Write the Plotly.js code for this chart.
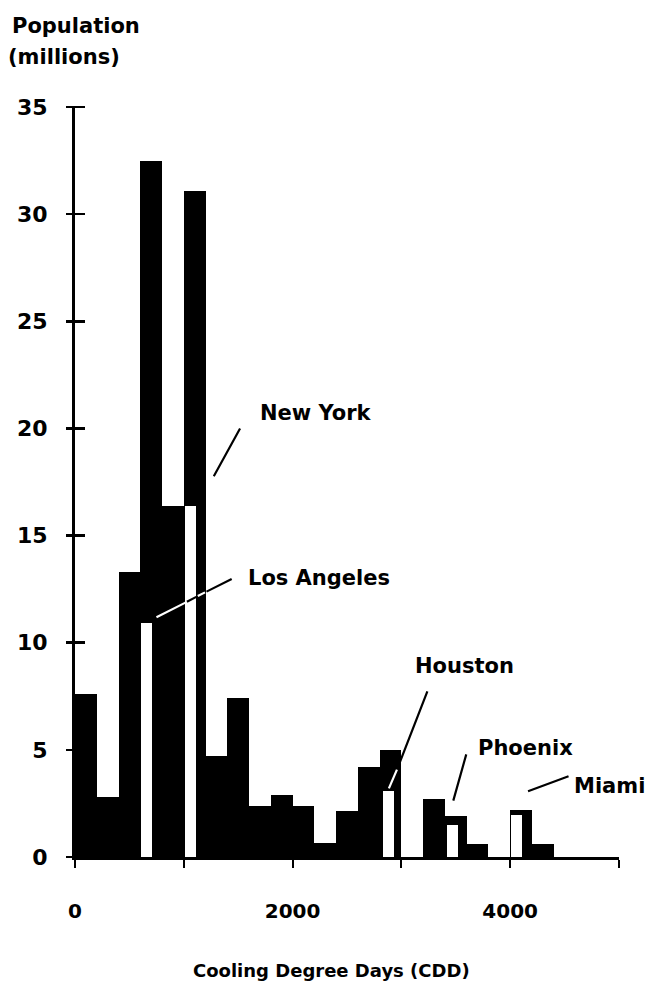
<!DOCTYPE html>
<html>
<head>
<meta charset="utf-8">
<script src="https://cdn.plot.ly/plotly-3.0.1.min.js"></script>
<style>html,body{margin:0;padding:0;background:#fff;}#chart{width:661px;height:993px;}</style>
</head>
<body>
<div id="chart"></div>
<script>
// Histogram bins (CDD, lower edge) and population per bin (millions)
var binStart = [0, 200, 400, 600, 800, 1000, 1200, 1400, 1600, 1800, 2000, 2200, 2400, 2600, 2800, 3000, 3200, 3400, 3600, 3800, 4000, 4200];
var binPopulation = [7.6, 2.8, 13.3, 32.5, 16.4, 31.1, 4.7, 7.4, 2.4, 2.9, 2.4, 0.65, 2.15, 4.2, 5.0, 0, 2.7, 1.9, 0.6, 0, 2.2, 0.6];
var binWidth = 200;

// Highlighted cities
var cityNames = ["Los Angeles", "New York", "Houston", "Phoenix", "Miami"];
var cityCDD = [660, 1065, 2880, 3470, 4060];
var cityPopulation = [10.9, 16.4, 3.1, 1.5, 1.95];

// Axis ticks
var yTicks = [0, 5, 10, 15, 20, 25, 30, 35];
var xTickVals = [0, 1000, 2000, 3000, 4000, 5000];
var xTickText = ["0", "", "2000", "", "4000", ""];

var FONT = "DejaVu Sans";

var binCenters = binStart.map(function (s) { return s + binWidth / 2; });

var traces = [
  {
    type: "bar",
    x: binCenters,
    y: binPopulation,
    width: binWidth,
    marker: { color: "#000", line: { width: 0 } },
    hoverinfo: "skip"
  },
  {
    type: "bar",
    x: cityCDD,
    y: cityPopulation,
    width: 100,
    marker: { color: "#fff", line: { width: 0 } },
    text: cityNames,
    textposition: "none",
    hoverinfo: "skip"
  },
  { // invisible trace carrying the crossing tick marks of the y axis
    type: "scatter", x: [0], y: [0], yaxis: "y2", mode: "markers",
    marker: { opacity: 0 }, hoverinfo: "skip"
  }
];

function leader(x0, y0, x1, y1, color) {
  return {
    xref: "x", yref: "y", axref: "x", ayref: "y",
    x: x1, y: y1, ax: x0, ay: y0,
    text: "", showarrow: true, arrowhead: 0, arrowwidth: 2.2,
    arrowcolor: color, standoff: 0, startstandoff: 0
  };
}
function label(txt, x, y) {
  return {
    xref: "x", yref: "y", x: x, y: y, text: "<b>" + txt + "</b>", showarrow: false,
    xanchor: "left", yanchor: "middle",
    font: { family: FONT, size: 21, color: "#000" }
  };
}

var annotations = [
  // y axis title (top-left)
  { xref: "paper", yref: "paper", x: -0.12, y: 1.127, xanchor: "left", yanchor: "top",
    text: "<b>Population</b>", showarrow: false, font: { family: FONT, size: 21, color: "#000" } },
  { xref: "paper", yref: "paper", x: -0.127, y: 1.085, xanchor: "left", yanchor: "top",
    text: "<b>(millions)</b>", showarrow: false, font: { family: FONT, size: 21, color: "#000" } },
  // x axis title
  { xref: "paper", yref: "paper", x: (331 - 75) / 544, y: -(970 - 857) / 750, xanchor: "center", yanchor: "middle",
    text: "<b>Cooling Degree Days (CDD)</b>", showarrow: false, font: { family: FONT, size: 18, color: "#000" } },
  // city labels
  label("New York", 1680, 20.7),
  label("Los Angeles", 1570, 13.0),
  label("Houston", 3105, 8.9),
  label("Phoenix", 3685, 5.1),
  label("Miami", 4565, 3.3),
  // leader lines
  leader(1268, 17.7, 1517, 20.0, "#000"),
  leader(735, 11.15, 1015, 11.87, "#fff"),
  leader(1015, 11.87, 1115, 12.14, "#000"),
  leader(1115, 12.14, 1195, 12.35, "#fff"),
  leader(1195, 12.35, 1440, 12.97, "#000"),
  leader(3244, 7.8, 2965, 4.15, "#000"),
  leader(2965, 4.15, 2885, 3.2, "#fff"),
  leader(3600, 4.86, 3477, 2.63, "#000"),
  leader(4550, 3.79, 4164, 3.07, "#000")
];

var layout = {
  width: 661, height: 993,
  margin: { l: 75, r: 42, t: 107, b: 136 },
  paper_bgcolor: "#fff", plot_bgcolor: "#fff",
  showlegend: false,
  barmode: "overlay", bargap: 0,
  font: { family: FONT, color: "#000" },
  xaxis: {
    range: [0, 5000], tickvals: xTickVals, ticktext: xTickText,
    showgrid: false, zeroline: false, showline: true, linecolor: "#000", linewidth: 2.5,
    ticks: "outside", ticklen: 8, tickwidth: 2, tickcolor: "#000",
    ticklabelstandoff: 26,
    tickfont: { family: FONT, size: 20, color: "#000", weight: "bold" }
  },
  yaxis: {
    range: [0, 35], tickvals: yTicks,
    showgrid: false, zeroline: false, showline: true, linecolor: "#000", linewidth: 3,
    ticks: "",
    ticklabelstandoff: 20,
    tickfont: { family: FONT, size: 22, color: "#000", weight: "bold" }
  },
  yaxis2: {
    overlaying: "y", anchor: "free", position: 10 / 544, side: "left",
    range: [0, 35], tickvals: yTicks,
    showgrid: false, zeroline: false, showline: false, showticklabels: false,
    ticks: "outside", ticklen: 19, tickwidth: 2.5, tickcolor: "#000"
  },
  annotations: annotations
};

Plotly.newPlot("chart", traces, layout, { displayModeBar: false, staticPlot: true });
</script>
</body>
</html>
